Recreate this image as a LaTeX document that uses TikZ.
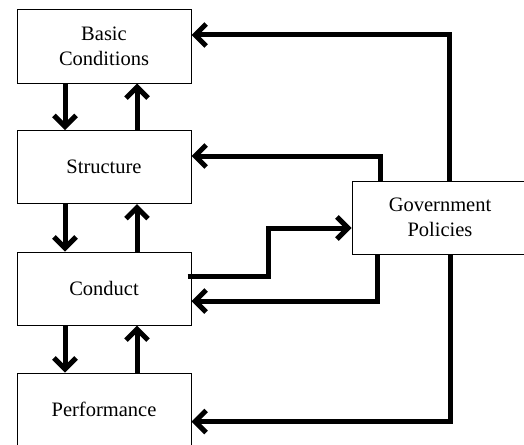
\documentclass[tikz,border=0pt]{standalone}
\usepackage{fontspec}
\setmainfont{Liberation Serif}
\usetikzlibrary{arrows.meta}
\begin{document}
\begin{tikzpicture}[x=1pt, y=-1pt,
    boxStyle/.style={draw, line width=1pt, minimum width=174pt, minimum height=73pt, align=center, font=\fontsize{20.5}{25}\selectfont},
    arrowStyle/.style={line width=5pt, -{Straight Barb[length=11pt, width=22pt]}}]
    \useasboundingbox (0, 0) rectangle (524, 444);
    \node[boxStyle](basic) at (104, 46.5) {Basic\\Conditions};
    \node[boxStyle](structure) at (104, 167) {Structure};
    \node[boxStyle](conduct) at (104, 288.5) {Conduct};
    \node[boxStyle](performance) at (104, 409.5) {Performance};
    \node[boxStyle, minimum width=176pt](govt) at (440, 217.5) {Government\\Policies};

    \draw[arrowStyle] ([xshift=-39pt]basic.south) -- ([xshift=-39pt]structure.north);
    \draw[arrowStyle] ([xshift=33pt]structure.north) -- ([xshift=33pt]basic.south);
    \draw[arrowStyle] ([xshift=-39pt]structure.south) -- ([xshift=-39pt]conduct.north);
    \draw[arrowStyle] ([xshift=33pt]conduct.north) -- ([xshift=33pt]structure.south);
    \draw[arrowStyle] ([xshift=-39pt]conduct.south) -- ([xshift=-39pt]performance.north);
    \draw[arrowStyle] ([xshift=33pt]performance.north) -- ([xshift=33pt]conduct.south);

    \draw[arrowStyle] ([xshift=9pt]govt.north) |- ([yshift=11.5pt]basic.east);
    \draw[arrowStyle] ([xshift=-60pt]govt.north) |- ([yshift=11pt]structure.east);
    \draw[arrowStyle] ([xshift=-4pt, yshift=12.5pt]conduct.east) -| ([xshift=-83pt, yshift=-10.5pt]govt.west) -- ([yshift=-10.5pt]govt.west);
    \draw[arrowStyle] ([xshift=-63pt]govt.south) |- ([yshift=-12.5pt]conduct.east);
    \draw[arrowStyle] ([xshift=10pt]govt.south) |- ([yshift=-12pt]performance.east);
\end{tikzpicture}
\end{document}
